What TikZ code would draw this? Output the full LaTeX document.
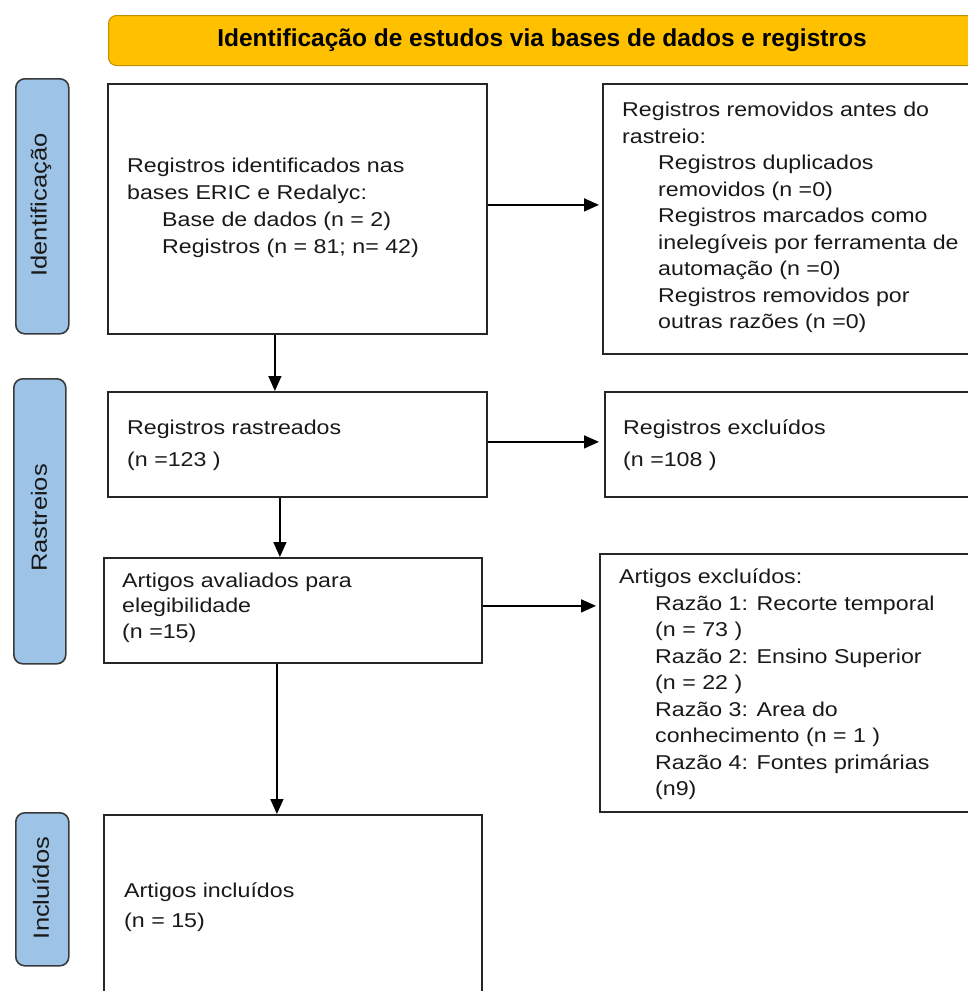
\documentclass[tikz,border=0pt]{standalone}
\usepackage{fontspec}
\setmainfont{Liberation Sans}[FakeStretch=1.16]
\newfontfamily\headfont{Liberation Sans}
\usetikzlibrary{arrows.meta}
\definecolor{hdrfill}{HTML}{FFC000}
\definecolor{hdrdraw}{HTML}{BF9000}
\definecolor{sidefill}{HTML}{9DC3E6}
\definecolor{sidedraw}{HTML}{3A3A3A}
\definecolor{boxdraw}{HTML}{262626}
\tikzset{
  flowbox/.style={draw=boxdraw, line width=1.8pt, fill=white, anchor=north west, inner sep=0pt},
  sidebox/.style={draw=sidedraw, line width=1.6pt, fill=sidefill, rounded corners=9pt, anchor=north west, inner sep=0pt},
  hdrbox/.style={draw=hdrdraw, line width=1pt, fill=hdrfill, rounded corners=8pt, anchor=north west, inner sep=0pt},
  txt/.style={font=\fontsize{20}{26.5}\selectfont, align=left, inner sep=0pt, anchor=north west, text=black!90},
  sidetxt/.style={font=\fontsize{22}{26}\selectfont, rotate=90, inner sep=0pt, text=black!90},
  arr/.style={draw=black, line width=1.6pt, -{Triangle[length=15pt,width=13pt]}}
}
\begin{document}
\begin{tikzpicture}[x=1pt,y=-1pt]
\useasboundingbox (0,0) rectangle (968,991);
\clip (0,0) rectangle (968,991);
% header
\node[hdrbox, minimum width=900pt, minimum height=50pt] (hdr) at (108,15) {};
\node[font=\headfont\bfseries\fontsize{24.5}{28}\selectfont, inner sep=0pt] (hdrtxt) at (542,40) {Identificação de estudos via bases de dados e registros};
% side labels
\node[sidebox, minimum width=53pt, minimum height=255pt] (s1) at (15,78) {};
\node[sidetxt] (s1t) at (41,205) {Identificação};
\node[sidebox, minimum width=52pt, minimum height=285pt] (s2) at (13,378) {};
\node[sidetxt] (s2t) at (39,518) {Rastreios};
\node[sidebox, minimum width=53pt, minimum height=153pt] (s3) at (15,812) {};
\node[sidetxt] (s3t) at (41,888) {Incluídos};
% boxes
\node[flowbox, minimum width=379pt, minimum height=250pt] (b1) at (107,83) {};
\node[flowbox, minimum width=420pt, minimum height=270pt] (b2) at (602,83) {};
\node[flowbox, minimum width=379pt, minimum height=105pt] (b3) at (107,391) {};
\node[flowbox, minimum width=420pt, minimum height=105pt] (b4) at (604,391) {};
\node[flowbox, minimum width=378pt, minimum height=105pt] (b5) at (103,557) {};
\node[flowbox, minimum width=420pt, minimum height=258pt] (b6) at (599,553) {};
\node[flowbox, minimum width=378pt, minimum height=260pt] (b7) at (103,814) {};
% texts
\node[txt, font=\fontsize{20}{27}\selectfont] (t1) at (127,153) {\strut Registros identificados nas\\bases ERIC e Redalyc:\\\hspace*{35pt}Base de dados (n = 2)\\\hspace*{35pt}Registros (n = 81; n= 42)};
\node[txt] (t2) at (622,98) {\strut Registros removidos antes do\\rastreio:\\\hspace*{36pt}Registros duplicados\\\hspace*{36pt}removidos (n =0)\\\hspace*{36pt}Registros marcados como\\\hspace*{36pt}inelegíveis por ferramenta de\\\hspace*{36pt}automação (n =0)\\\hspace*{36pt}Registros removidos por\\\hspace*{36pt}outras razões (n =0)};
\node[txt] (t3) at (127,416) {\strut Registros rastreados\\[5pt](n =123 )};
\node[txt] (t4) at (623,416) {\strut Registros excluídos\\[5pt](n =108 )};
\node[txt, font=\fontsize{20}{25.5}\selectfont] (t5) at (122,569) {\strut Artigos avaliados para\\elegibilidade\\(n =15)};
\node[txt] (t6) at (619,565) {\strut Artigos excluídos:\\\hspace*{36pt}Razão 1: Recorte temporal\\\hspace*{36pt}(n = 73 )\\\hspace*{36pt}Razão 2: Ensino Superior\\\hspace*{36pt}(n = 22 )\\\hspace*{36pt}Razão 3: Area do\\\hspace*{36pt}conhecimento (n = 1 )\\\hspace*{36pt}Razão 4: Fontes primárias\\\hspace*{36pt}(n9)};
\node[txt] (t7) at (124,879) {\strut Artigos incluídos\\[3pt](n = 15)};
% connectors
\draw[arr, shorten >=3pt] ([yshift=4pt]b1.east) -- ([yshift=4pt]b1.east -| b2.west);
\draw[arr] ([xshift=-22.5pt]b1.south) -- ([xshift=-22.5pt]b1.south |- b3.north);
\draw[arr, shorten >=5pt] ([yshift=2.5pt]b3.east) -- ([yshift=2.5pt]b3.east -| b4.west);
\draw[arr] ([xshift=-17.5pt]b3.south) -- ([xshift=-17.5pt]b3.south |- b5.north);
\draw[arr, shorten >=3pt] ([yshift=4.5pt]b5.east) -- ([yshift=4.5pt]b5.east -| b6.west);
\draw[arr] ([xshift=-16pt]b5.south) -- ([xshift=-16pt]b5.south |- b7.north);
\end{tikzpicture}
\end{document}
